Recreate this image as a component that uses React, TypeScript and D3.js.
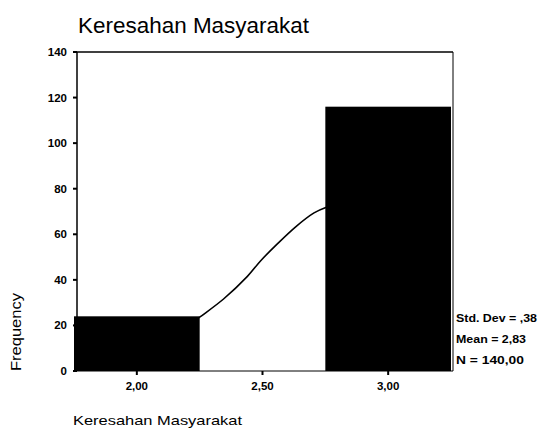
import React from "react";
import * as d3 from "d3";

const binCenters = [2.0, 3.0];
const binFrequencies = [24, 116];
const binWidth = 0.5;
const yTicks = [0, 20, 40, 60, 80, 100, 120, 140];
const xTicks = [2.0, 2.5, 3.0];
const xTickLabels = ["2,00", "2,50", "3,00"];
// normal curve (x value, frequency)
const curveX = [2.2, 2.25, 2.345, 2.439, 2.492, 2.559, 2.632, 2.705, 2.752, 2.8];
const curveY = [19.5, 23.6, 31.6, 41.4, 48.3, 55.8, 63.3, 69.4, 71.8, 73.2];
const statLabels = ["Std. Dev = ,38", "Mean = 2,83", "N = 140,00"];
const title = "Keresahan Masyarakat";
const xTitle = "Keresahan Masyarakat";
const yTitle = "Frequency";

const W = 538;
const H = 432;
const frameLeft = 77;
const frameRight = 453;
const frameTop = 52;
const frameBottom = 371;

export default function App() {
  const x = d3.scaleLinear().domain([1.75, 3.25]).range([74, 451]);
  const y = d3.scaleLinear().domain([0, 140]).range([frameBottom, frameTop]);
  const line = d3
    .line<number>()
    .x((_, i) => x(curveX[i]))
    .y((d) => y(d))
    .curve(d3.curveCatmullRom);
  const font = "'Liberation Sans', Arial, sans-serif";
  return (
    <svg
      width={W}
      height={H}
      style={{ position: "absolute", left: 0, top: 0, background: "#fff" }}
      fontFamily={font}
    >
      <rect x={0} y={0} width={W} height={H} fill="#fff" />
      <text x={78} y={33} fontSize={22.5} textLength={231} lengthAdjust="spacingAndGlyphs" fill="#000">
        {title}
      </text>
      {/* curve */}
      <path d={line(curveY) || ""} fill="none" stroke="#000" strokeWidth={1.6} />
      {/* bars */}
      {binCenters.map((c, i) => (
        <rect
          key={i}
          x={x(c - binWidth / 2)}
          y={y(binFrequencies[i])}
          width={x(c + binWidth / 2) - x(c - binWidth / 2)}
          height={y(0) - y(binFrequencies[i])}
          fill="#000"
        />
      ))}
      {/* frame */}
      <line x1={frameLeft} x2={frameRight} y1={frameTop} y2={frameTop} stroke="#000" strokeWidth={1.5} />
      <line x1={frameRight} x2={frameRight} y1={frameTop} y2={frameBottom} stroke="#000" strokeWidth={1} />
      <line x1={frameLeft} x2={frameLeft} y1={frameTop} y2={frameBottom} stroke="#000" strokeWidth={1.5} />
      <line x1={frameLeft - 4} x2={frameRight} y1={frameBottom} y2={frameBottom} stroke="#000" strokeWidth={1} />
      {/* y ticks */}
      {yTicks.map((t) => (
        <g key={t}>
          <line x1={frameLeft - 4} x2={frameLeft} y1={y(t)} y2={y(t)} stroke="#000" strokeWidth={2} />
          <text x={frameLeft - 10} y={y(t) + 4} fontSize={11.5} fontWeight="bold" textAnchor="end">
            {t}
          </text>
        </g>
      ))}
      {/* x ticks */}
      {xTicks.map((t, i) => (
        <g key={t}>
          <line x1={x(t)} x2={x(t)} y1={frameBottom} y2={frameBottom + 4} stroke="#000" strokeWidth={2} />
          <text x={x(t)} y={frameBottom + 19} fontSize={11.5} fontWeight="bold" textAnchor="middle">
            {xTickLabels[i]}
          </text>
        </g>
      ))}
      <text x={73} y={425} fontSize={13} textLength={169} lengthAdjust="spacingAndGlyphs">
        {xTitle}
      </text>
      <text
        transform={`translate(21, ${332}) rotate(-90)`}
        fontSize={14.5}
        textAnchor="middle"
        textLength={78}
        lengthAdjust="spacingAndGlyphs"
      >
        {yTitle}
      </text>
      {statLabels.map((s, i) => (
        <text key={s} x={456} y={322 + i * 21} fontSize={11.5} fontWeight="bold" textLength={[81, 70, 68][i]} lengthAdjust="spacingAndGlyphs">
          {s}
        </text>
      ))}
    </svg>
  );
}
